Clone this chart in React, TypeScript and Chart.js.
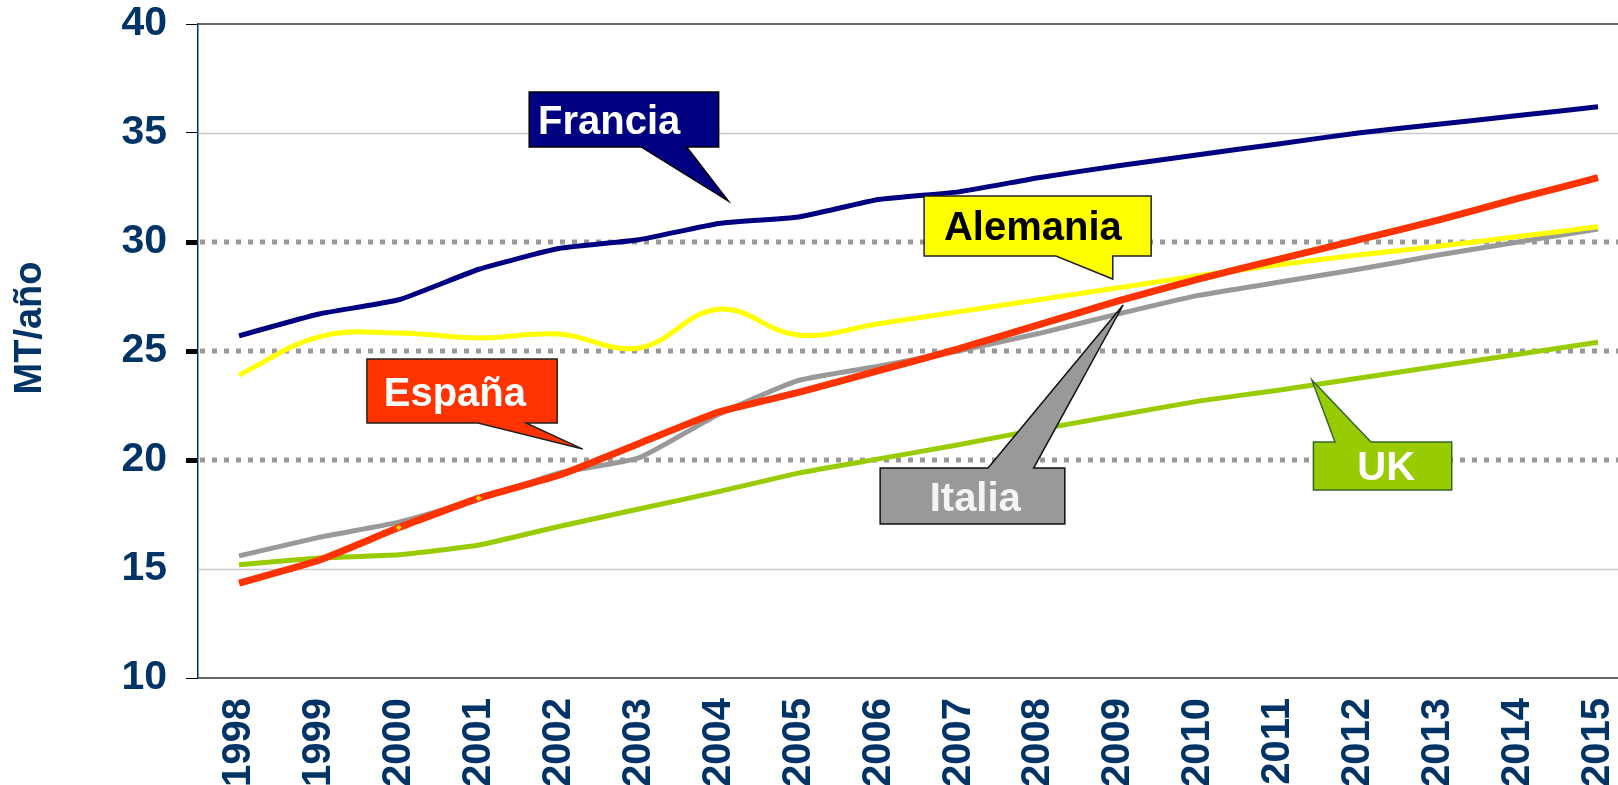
import React, { useEffect, useRef } from 'react';
import { Chart, registerables } from 'chart.js';

Chart.register(...registerables);

const years = [1998, 1999, 2000, 2001, 2002, 2003, 2004, 2005, 2006, 2007, 2008, 2009, 2010, 2011, 2012, 2013, 2014, 2015];
const francia = [25.7, 26.7, 27.35, 28.75, 29.7, 30.1, 30.85, 31.15, 31.95, 32.3, 32.95, 33.5, 34.0, 34.5, 35.0, 35.4, 35.8, 36.2];
const alemania = [23.9, 25.65, 25.83, 25.6, 25.78, 25.14, 26.92, 25.73, 26.25, 26.8, 27.35, 27.9, 28.45, 28.95, 29.4, 29.8, 30.25, 30.7];
const espana = [14.35, 15.4, 16.9, 18.25, 19.3, 20.75, 22.2, 23.1, 24.1, 25.1, 26.2, 27.3, 28.3, 29.2, 30.1, 31.0, 32.0, 32.95];
const italia = [15.6, 16.45, 17.15, 18.2, 19.4, 20.1, 22.1, 23.65, 24.3, 25.0, 25.8, 26.7, 27.55, 28.15, 28.75, 29.4, 30.0, 30.6];
const uk = [15.2, 15.5, 15.65, 16.1, 16.95, 17.75, 18.55, 19.4, 20.05, 20.7, 21.4, 22.05, 22.7, 23.2, 23.75, 24.3, 24.85, 25.4];

const yTicks = [10, 15, 20, 25, 30, 35, 40];
const dottedLevels = [20, 25, 30];
const solidLevels = [15, 35];
const markedEspana = [2000, 2001];

const FONT = '"Liberation Sans", Arial, Helvetica, sans-serif';
const AXIS_COLOR = '#003366';

type Callout = {
  label: string;
  fill: string;
  stroke: string;
  text: string;
  box: [number, number, number, number];
  base: [number, number];
  tip: [number, number];
  side: 'top' | 'bottom';
  textX: number;
};

const callouts: Callout[] = [
  { label: 'Francia', fill: '#000080', stroke: '#000000', text: '#ffffff', box: [2001.63, 36.88, 2004.0, 34.36], base: [2003.03, 2003.6], tip: [2004.12, 31.88], side: 'bottom', textX: 2002.63 },
  { label: 'Alemania', fill: '#ffff00', stroke: '#222222', text: '#000000', box: [2006.57, 32.11, 2009.41, 29.36], base: [2008.22, 2008.93], tip: [2008.93, 28.3], side: 'bottom', textX: 2007.93 },
  { label: 'España', fill: '#ff3300', stroke: '#222222', text: '#ffffff', box: [1999.6, 24.63, 2001.98, 21.7], base: [2000.99, 2001.59], tip: [2002.3, 20.5], side: 'bottom', textX: 2000.7 },
  { label: 'Italia', fill: '#999999', stroke: '#111111', text: '#f4f4f4', box: [2006.02, 19.63, 2008.33, 17.06], base: [2007.37, 2007.94], tip: [2009.06, 27.11], side: 'top', textX: 2007.21 },
  { label: 'UK', fill: '#99cc00', stroke: '#336633', text: '#ffffff', box: [2011.44, 20.83, 2013.17, 18.62], base: [2011.71, 2012.16], tip: [2011.42, 23.67], side: 'top', textX: 2012.35 },
];

const toPoints = (vals: number[]) => years.map((yr, i) => ({ x: yr, y: vals[i] }));

const decorPlugin = {
  id: 'decor',
  beforeDatasetsDraw(chart: any) {
    const { ctx, chartArea: a, scales } = chart;
    const y = scales.y;
    ctx.save();
    solidLevels.forEach((v) => {
      const py = Math.round(y.getPixelForValue(v)) + 0.5;
      ctx.strokeStyle = '#cccccc';
      ctx.lineWidth = 1.5;
      ctx.beginPath();
      ctx.moveTo(a.left + 1, py);
      ctx.lineTo(a.right, py);
      ctx.stroke();
    });
    dottedLevels.forEach((v) => {
      const py = y.getPixelForValue(v);
      ctx.strokeStyle = '#999999';
      ctx.lineWidth = 5;
      ctx.setLineDash([5, 7]);
      ctx.beginPath();
      ctx.moveTo(a.left + 2, py);
      ctx.lineTo(a.right, py);
      ctx.stroke();
    });
    ctx.setLineDash([]);
    const pTop = y.getPixelForValue(40);
    ctx.strokeStyle = '#666666';
    ctx.lineWidth = 2;
    ctx.beginPath();
    ctx.moveTo(a.left, pTop);
    ctx.lineTo(a.right, pTop);
    ctx.stroke();
    ctx.restore();
  },
  afterDatasetsDraw(chart: any) {
    const { ctx, scales } = chart;
    const sx = scales.x;
    const sy = scales.y;
    ctx.save();
    callouts.forEach((c) => {
      const x0 = sx.getPixelForValue(c.box[0]);
      const y0 = sy.getPixelForValue(c.box[1]);
      const x1 = sx.getPixelForValue(c.box[2]);
      const y1 = sy.getPixelForValue(c.box[3]);
      const ba = sx.getPixelForValue(c.base[0]);
      const bb = sx.getPixelForValue(c.base[1]);
      const tx = sx.getPixelForValue(c.tip[0]);
      const ty = sy.getPixelForValue(c.tip[1]);
      ctx.beginPath();
      if (c.side === 'bottom') {
        ctx.moveTo(x0, y0);
        ctx.lineTo(x1, y0);
        ctx.lineTo(x1, y1);
        ctx.lineTo(bb, y1);
        ctx.lineTo(tx, ty);
        ctx.lineTo(ba, y1);
        ctx.lineTo(x0, y1);
      } else {
        ctx.moveTo(x0, y0);
        ctx.lineTo(ba, y0);
        ctx.lineTo(tx, ty);
        ctx.lineTo(bb, y0);
        ctx.lineTo(x1, y0);
        ctx.lineTo(x1, y1);
        ctx.lineTo(x0, y1);
      }
      ctx.closePath();
      ctx.fillStyle = c.fill;
      ctx.fill();
      ctx.strokeStyle = c.stroke;
      ctx.lineWidth = 1.5;
      ctx.stroke();
      ctx.fillStyle = c.text;
      ctx.font = `bold 40px ${FONT}`;
      ctx.textAlign = 'center';
      ctx.textBaseline = 'alphabetic';
      const cy = (y0 + y1) / 2;
      ctx.fillText(c.label, sx.getPixelForValue(c.textX), cy + 14.5);
    });
    ctx.restore();
  },
  afterDraw(chart: any) {
    const { ctx } = chart;
    ctx.save();
    ctx.translate(31, 328);
    ctx.rotate(-Math.PI / 2);
    ctx.font = `bold 38px ${FONT}`;
    ctx.fillStyle = AXIS_COLOR;
    ctx.textAlign = 'center';
    ctx.textBaseline = 'middle';
    ctx.fillText('MT/año', 0, 0);
    ctx.restore();
  },
};

export default function App() {
  const canvasRef = useRef<HTMLCanvasElement | null>(null);

  useEffect(() => {
    if (!canvasRef.current) return;
    const line = (data: number[], color: string, width: number, tension: number) => ({
      data: toPoints(data),
      borderColor: color,
      backgroundColor: color,
      borderWidth: width,
      tension,
      fill: false,
      pointRadius: 0,
      pointHoverRadius: 0,
    });
    const chart = new Chart(canvasRef.current, {
      type: 'line',
      data: {
        datasets: [
          {
            ...line(espana, '#ff3300', 7, 0.15),
            label: 'España',
            pointStyle: 'rectRot',
            pointRadius: (ctx: any) => (markedEspana.includes(years[ctx.dataIndex]) ? 3 : 0),
            pointBackgroundColor: '#ffcc00',
            pointBorderColor: '#ffcc00',
            pointBorderWidth: 0,
          } as any,
          { ...line(francia, '#000080', 5, 0.15), label: 'Francia' },
          { ...line(alemania, '#ffff00', 5, 0.4), label: 'Alemania' },
          { ...line(italia, '#999999', 5, 0.15), label: 'Italia' },
          { ...line(uk, '#99cc00', 5, 0.15), label: 'UK' },
        ],
      },
      options: {
        responsive: false,
        devicePixelRatio: 1,
        animation: false,
        events: [],
        layout: { padding: { top: 24, left: 0, right: 0, bottom: 0 } },
        plugins: {
          legend: { display: false },
          tooltip: { enabled: false },
          title: { display: false },
        },
        scales: {
          x: {
            type: 'linear',
            min: 1997.487,
            max: 2015.25,
            grid: { display: false, drawTicks: false },
            border: { display: true, color: '#666666', width: 2 },
            afterBuildTicks: (s: any) => {
              s.ticks = years.map((v) => ({ value: v }));
            },
            afterFit: (s: any) => {
              s.height = 107;
              s.paddingLeft = 0;
              s.paddingRight = 0;
            },
            ticks: {
              autoSkip: false,
              minRotation: 90,
              maxRotation: 90,
              padding: 20,
              color: AXIS_COLOR,
              font: { family: FONT, size: 40, weight: 'bold' },
              callback: (v: any) => String(v),
            },
          },
          y: {
            type: 'linear',
            min: 10,
            max: 40,
            afterBuildTicks: (s: any) => {
              s.ticks = yTicks.map((v) => ({ value: v }));
            },
            afterFit: (s: any) => {
              s.width = 198;
              s.paddingTop = 0;
              s.paddingBottom = 0;
            },
            grid: {
              display: true,
              drawOnChartArea: false,
              drawTicks: true,
              tickLength: 12,
              tickColor: (ctx: any) => (ctx.tick && ctx.tick.value === 15 ? 'rgba(0,0,0,0)' : '#000000'),
              tickWidth: (ctx: any) => (ctx.tick && dottedLevels.includes(ctx.tick.value) ? 5 : 1),
            },
            border: { display: true, color: AXIS_COLOR, width: 1.5 },
            ticks: {
              padding: 19,
              color: AXIS_COLOR,
              font: { family: FONT, size: 41, weight: 'bold' },
              callback: (v: any) => String(v),
            },
          },
        },
      } as any,
      plugins: [decorPlugin],
    });
    return () => chart.destroy();
  }, []);

  return (
    <div style={{ position: 'fixed', left: 0, top: 0, width: 1618, height: 785, background: '#ffffff' }}>
      <canvas ref={canvasRef} width={1618} height={785} style={{ display: 'block', width: 1618, height: 785 }} />
    </div>
  );
}
